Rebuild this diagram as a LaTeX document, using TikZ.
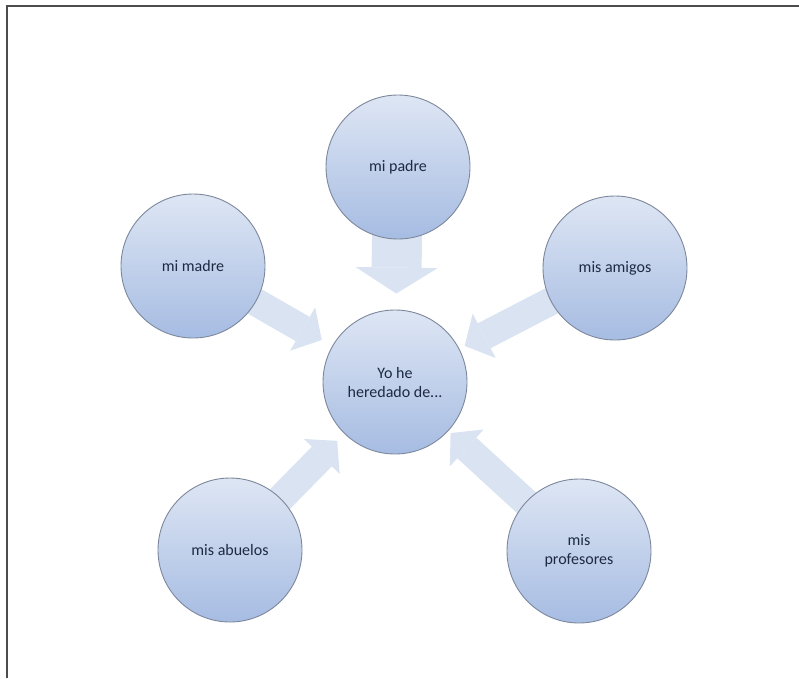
\documentclass[tikz,border=0pt]{standalone}
\usepackage{fontspec}
\setmainfont{Carlito}
\usetikzlibrary{arrows.meta}
\definecolor{bubtop}{HTML}{DEE6F4}
\definecolor{bubbot}{HTML}{A6BCE2}
\definecolor{bubline}{HTML}{7C879C}
\definecolor{flowblue}{HTML}{D9E3F2}
\definecolor{inktext}{HTML}{1E2942}
\pgfdeclarelayer{background}
\pgfsetlayers{background,main}

\begin{document}
\begin{tikzpicture}[x=1pt, y=-1pt,
    bubble/.style={circle, draw=bubline, line width=0.9pt, top color=bubtop, bottom color=bubbot,
                   minimum size=144pt, inner sep=0pt, font=\fontsize{16}{19}\selectfont,
                   text=inktext, align=center},
    flow/.style={line width=#1, draw=flowblue, shorten >=10pt},
    frame/.style={line width=1.6pt, gray!60!black}
]
\useasboundingbox (0,0) rectangle (799,678);
\draw[frame] (7,678) -- (7,6) -- (799,6);

\node[bubble] (yo) at (395,382) {Yo he\\heredado de...};
\node[bubble] (padre) at (398,167) {mi padre};
\node[bubble] (madre) at (193,266) {mi madre};
\node[bubble] (amigos) at (615,268) {mis amigos};
\node[bubble] (abuelos) at (230,550) {mis abuelos};
\node[bubble] (profes) at (579,551) {mis\\profesores};

\begin{pgfonlayer}{background}
\draw[flow=50pt, -{Triangle[length=26pt, width=82pt, line width=0pt]}, shorten >=16pt] (padre.center) -- (yo);
\draw[flow=28pt, -{Triangle[length=22pt, width=50pt, line width=0pt]}, shorten >=12pt] (madre.center) -- (yo);
\draw[flow=28pt, -{Triangle[length=22pt, width=50pt, line width=0pt]}, shorten >=6pt] (amigos.center) -- (yo);
\draw[flow=28pt, -{Triangle[length=22pt, width=50pt, line width=0pt]}, shorten >=10pt] (abuelos.center) -- (yo);
\draw[flow=28pt, -{Triangle[length=22pt, width=50pt, line width=0pt]}, shorten >=3pt] (profes.center) -- (yo);
\end{pgfonlayer}
\end{tikzpicture}
\end{document}
